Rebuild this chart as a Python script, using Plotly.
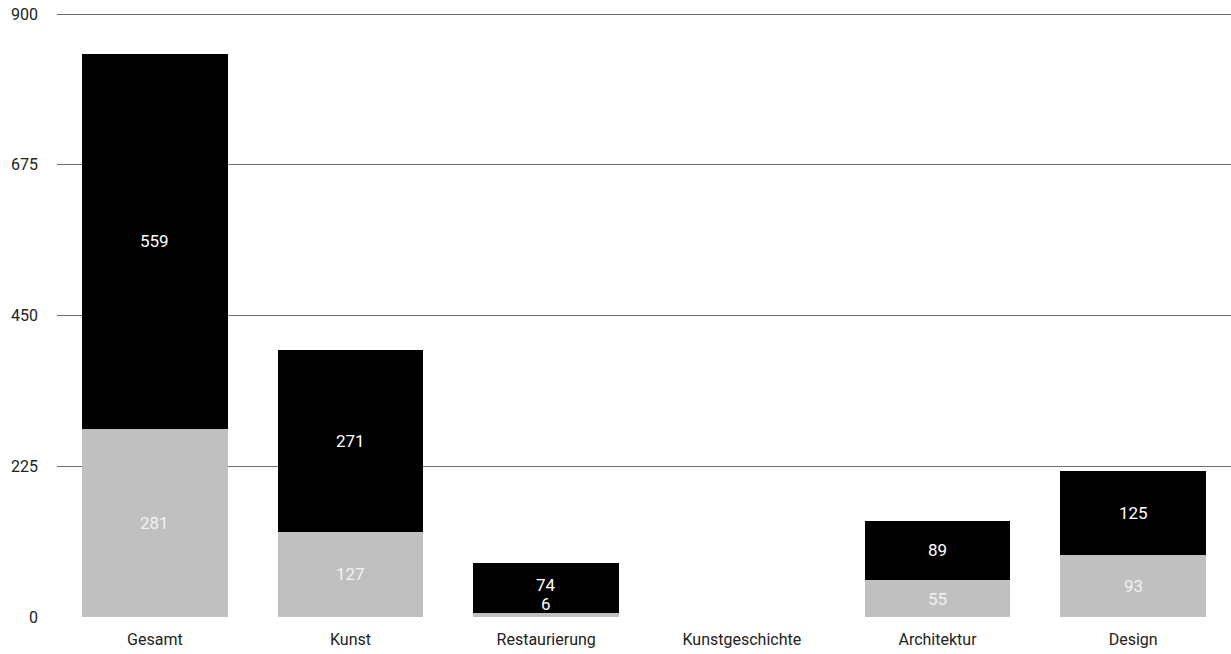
import plotly.graph_objects as go

categories = ["Gesamt", "Kunst", "Restaurierung", "Kunstgeschichte", "Architektur", "Design"]
gray_values = [281, 127, 6, 0, 55, 93]
black_values = [559, 271, 74, 0, 89, 125]
y_ticks = [0, 225, 450, 675, 900]

FONT = "Roboto, 'Liberation Sans', sans-serif"
VAL_SIZE = 17
TICK_SIZE = 16

fig = go.Figure()
fig.add_trace(go.Bar(x=categories, y=gray_values, marker=dict(color="#c0c0c0", line=dict(width=0)),
                     hoverinfo="x+y", showlegend=False))
fig.add_trace(go.Bar(x=categories, y=black_values, marker=dict(color="#000000", line=dict(width=0)),
                     hoverinfo="x+y", showlegend=False))

annotations = []
for c, g, b in zip(categories, gray_values, black_values):
    if g > 0:
        if g >= 30:
            annotations.append(dict(x=c, y=g / 2, text=str(g), showarrow=False,
                                    font=dict(family=FONT, size=VAL_SIZE, color="#f2f2f2"),
                                    xanchor="center", yanchor="middle"))
        else:
            annotations.append(dict(x=c, y=g, text=str(g), showarrow=False,
                                    font=dict(family=FONT, size=VAL_SIZE, color="#ffffff"),
                                    xanchor="center", yanchor="bottom", yshift=-3))
    if b > 0:
        if g >= 30:
            annotations.append(dict(x=c, y=g + b / 2, text=str(b), showarrow=False,
                                    font=dict(family=FONT, size=VAL_SIZE, color="#ffffff"),
                                    xanchor="center", yanchor="middle"))
        else:
            annotations.append(dict(x=c, y=g, text=str(b), showarrow=False,
                                    font=dict(family=FONT, size=VAL_SIZE, color="#ffffff"),
                                    xanchor="center", yanchor="bottom", yshift=16))

fig.update_layout(
    barmode="stack",
    bargap=0.255,
    width=1231, height=654,
    margin=dict(l=57, r=0, t=10, b=37),
    plot_bgcolor="white", paper_bgcolor="white",
    font=dict(family=FONT, size=TICK_SIZE, color="#222222"),
    annotations=annotations,
    xaxis=dict(showgrid=False, showline=False, zeroline=False, ticks="",
               ticklabelstandoff=11,
               tickfont=dict(family=FONT, size=TICK_SIZE, color="#222222")),
    yaxis=dict(range=[0, 906], tickvals=y_ticks, ticktext=[str(v) for v in y_ticks],
               showgrid=True, gridcolor="#6e6e6e", gridwidth=1, zeroline=False,
               showline=False, ticks="", ticklabelstandoff=18,
               tickfont=dict(family=FONT, size=TICK_SIZE, color="#222222")),
)

fig.write_html("out.html")
